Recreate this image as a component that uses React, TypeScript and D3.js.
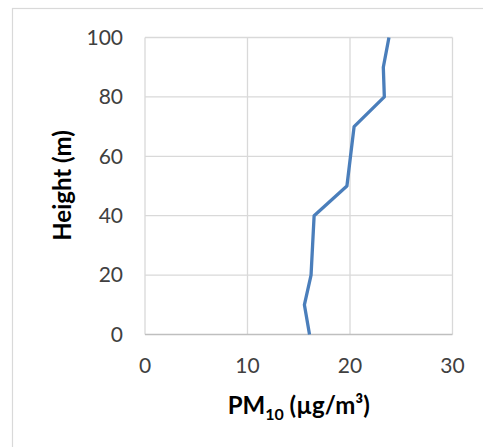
import { useEffect, useRef } from 'react';
import * as d3 from 'd3';

const heights = [0, 10, 20, 30, 40, 50, 60, 70, 80, 90, 100];
const pm10 = [16.05, 15.55, 16.2, 16.35, 16.5, 19.7, 20.05, 20.4, 23.35, 23.25, 23.8];
const xTicks = [0, 10, 20, 30];
const yTicks = [0, 20, 40, 60, 80, 100];

const W = 483;
const H = 447;

function App() {
  const svgRef = useRef<SVGSVGElement>(null);

  useEffect(() => {
    const svg = d3.select(svgRef.current);
    svg.selectAll('*').remove();

    const font = 'Lato, "Open Sans", sans-serif';
    const left = 145, right = 452.5, top = 37.5, bottom = 334.5;

    // chart frame
    svg.append('rect')
      .attr('x', 12.5).attr('y', 8.5)
      .attr('width', W + 20).attr('height', H + 20)
      .attr('fill', 'white')
      .attr('stroke', '#d9d9d9')
      .attr('stroke-width', 1.2);

    const x = d3.scaleLinear().domain([0, 30]).range([left, right]);
    const y = d3.scaleLinear().domain([0, 100]).range([bottom, top]);

    const g = svg.append('g');

    g.selectAll('.vgrid')
      .data(xTicks)
      .enter()
      .append('line')
      .attr('x1', d => x(d)).attr('x2', d => x(d))
      .attr('y1', top).attr('y2', bottom)
      .attr('stroke', '#d9d9d9')
      .attr('stroke-width', 1.3);

    g.selectAll('.hgrid')
      .data(yTicks)
      .enter()
      .append('line')
      .attr('x1', left).attr('x2', right)
      .attr('y1', d => y(d)).attr('y2', d => y(d))
      .attr('stroke', d => (d === 0 ? '#bfbfbf' : '#d9d9d9'))
      .attr('stroke-width', 1.3);

    g.selectAll('.ylab')
      .data(yTicks)
      .enter()
      .append('text')
      .attr('x', 123)
      .attr('y', d => y(d))
      .attr('dy', '0.35em')
      .attr('text-anchor', 'end')
      .attr('font-family', font)
      .attr('font-size', 21)
      .attr('fill', '#404040')
      .text(d => d);

    g.selectAll('.xlab')
      .data(xTicks)
      .enter()
      .append('text')
      .attr('x', d => x(d))
      .attr('y', 366)
      .attr('dy', '0.35em')
      .attr('text-anchor', 'middle')
      .attr('font-family', font)
      .attr('font-size', 21)
      .attr('fill', '#404040')
      .text(d => d);

    const line = d3.line<number>()
      .x((d, i) => x(pm10[i]))
      .y(d => y(d));

    g.append('path')
      .datum(heights)
      .attr('fill', 'none')
      .attr('stroke', '#4a7ebb')
      .attr('stroke-width', 3.3)
      .attr('stroke-linejoin', 'round')
      .attr('d', line);

    // axis titles
    g.append('text')
      .attr('transform', `translate(71,${(top + bottom) / 2 - 0.5}) rotate(-90)`)
      .attr('text-anchor', 'middle')
      .attr('font-family', font)
      .attr('font-weight', 'bold')
      .attr('font-size', 24)
      .attr('fill', '#000')
      .text('Height (m)');

    const t = g.append('text')
      .attr('x', (left + right) / 2)
      .attr('y', 414)
      .attr('text-anchor', 'middle')
      .attr('font-family', font)
      .attr('font-weight', 'bold')
      .attr('font-size', 24)
      .attr('fill', '#000');
    t.append('tspan').text('PM');
    t.append('tspan').attr('font-size', 16).attr('dy', 6).text('10');
    t.append('tspan').attr('dy', -6).text(' (µg/m³)');
  }, []);

  return (
    <svg
      ref={svgRef}
      width={W}
      height={H}
      viewBox={`0 0 ${W} ${H}`}
      style={{ position: 'absolute', left: 0, top: 0, background: 'white' }}
    />
  );
}

export default App;
